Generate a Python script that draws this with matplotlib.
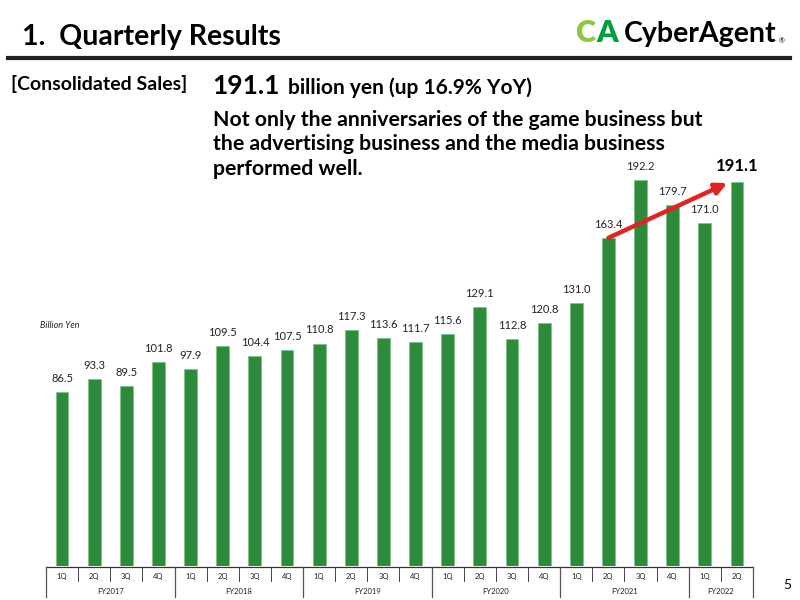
import matplotlib
matplotlib.use("Agg")
import matplotlib.pyplot as plt
from matplotlib.lines import Line2D
from matplotlib.patches import FancyArrowPatch

plt.rcParams['font.family'] = ['Lato', 'DejaVu Sans']

quarters = ["1Q", "2Q", "3Q", "4Q"] * 5 + ["1Q", "2Q"]
fiscal_years = ["FY2017", "FY2018", "FY2019", "FY2020", "FY2021", "FY2022"]
fy_counts = [4, 4, 4, 4, 4, 2]
sales = [86.5, 93.3, 89.5, 101.8, 97.9, 109.5, 104.4, 107.5,
         110.8, 117.3, 113.6, 111.7, 115.6, 129.1, 112.8, 120.8,
         131.0, 163.4, 192.2, 179.7, 171.0, 191.1]

W, H = 800, 600
fig = plt.figure(figsize=(8, 6), dpi=100)

def fx(x):
    return x / W

def fy(y):
    return 1 - y / H

# axes geometry in pixels
ax_left, ax_right, ax_bottom, ax_top = 46, 753, 566, 166
ax = fig.add_axes([fx(ax_left), fy(ax_bottom), fx(ax_right - ax_left), (ax_bottom - ax_top) / H])
n = len(sales)
xs = list(range(n))
green = '#2E8B3C'
ax.bar(xs, sales, width=0.4, color=green, edgecolor='#7FC58A', linewidth=0.6, zorder=2)
ax.set_xlim(-0.5, n - 0.5)
ax.set_ylim(0, 400 / 2.008)
ax.axis('off')

for i, v in enumerate(sales):
    if i == n - 1:
        ax.text(i, v + 4, f"{v:.1f}", ha='center', va='bottom', fontsize=12,
                fontweight='bold', color='black', clip_on=False)
    else:
        ax.text(i, v + 4, f"{v:.1f}", ha='center', va='bottom', fontsize=8,
                color='#222222', clip_on=False)

# arrow from 2Q FY2021 to 2Q FY2022
arr = FancyArrowPatch((17, sales[17]), (20.7, 190.7), arrowstyle='-|>',
                      mutation_scale=17, color='#E02323', linewidth=3.2,
                      shrinkA=0, shrinkB=0, zorder=5, clip_on=False)
ax.add_patch(arr)

fig.text(fx(40), fy(325), "Billion Yen", fontsize=6.5, style='italic', color='#222222',
         ha='left', va='center')

# category table
cell = (ax_right - ax_left) / n
line_col = '#555555'
fig.add_artist(Line2D([fx(ax_left), fx(ax_right)], [fy(567), fy(567)], color='#333333', lw=0.9))
bounds = [0]
for c in fy_counts:
    bounds.append(bounds[-1] + c)
for k in range(n + 1):
    x = ax_left + k * cell
    if k in bounds:
        fig.add_artist(Line2D([fx(x), fx(x)], [fy(567), fy(597)], color=line_col, lw=0.9))
    else:
        fig.add_artist(Line2D([fx(x), fx(x)], [fy(567), fy(581)], color='#444444', lw=0.7))
for i, q in enumerate(quarters):
    fig.text(fx(ax_left + (i + 0.5) * cell), fy(576), q, ha='center', va='center',
             fontsize=5.5, color='#222222')
for j, f in enumerate(fiscal_years):
    xc = ax_left + (bounds[j] + bounds[j + 1]) / 2 * cell
    fig.text(fx(xc), fy(591), f, ha='center', va='center', fontsize=5.5, color='#222222')

# header
fig.text(fx(22), fy(37), "1.  Quarterly Results", fontsize=20.5, fontweight='bold',
         ha='left', va='center', color='black')
fig.add_artist(Line2D([fx(8), fx(790)], [fy(58), fy(58)], color='#222222', lw=3))

# logo
fig.text(fx(575), fy(33), "C", fontsize=22, fontweight='heavy', color='#8DC63F',
         ha='left', va='center')
fig.text(fx(596), fy(33), "A", fontsize=22, fontweight='heavy', color='#00A040',
         ha='left', va='center')
fig.text(fx(624), fy(34), "CyberAgent", fontsize=20.5, fontweight='bold', color='black',
         ha='left', va='center')
fig.text(fx(779), fy(41), "®", fontsize=5, color='black', ha='left', va='center')

# subtitle
fig.text(fx(11), fy(84), "[Consolidated Sales]", fontsize=14, fontweight='bold',
         ha='left', va='center', color='black')
fig.text(fx(212), fy(86), "191.1", fontsize=19, fontweight='bold',
         ha='left', va='center', color='black')
fig.text(fx(288), fy(88), "billion yen (up 16.9% YoY)", fontsize=15, fontweight='bold',
         ha='left', va='center', color='black')

para = ["Not only the anniversaries of the game business but",
        "the advertising business and the media business",
        "performed well."]
for k, line in enumerate(para):
    fig.text(fx(213), fy(120 + 24.5 * k), line, fontsize=15.3, fontweight='bold',
             ha='left', va='center', color='black')

fig.text(fx(787), fy(585), "5", fontsize=10, ha='center', va='center', color='black')

fig.savefig("out.png", dpi=100)
